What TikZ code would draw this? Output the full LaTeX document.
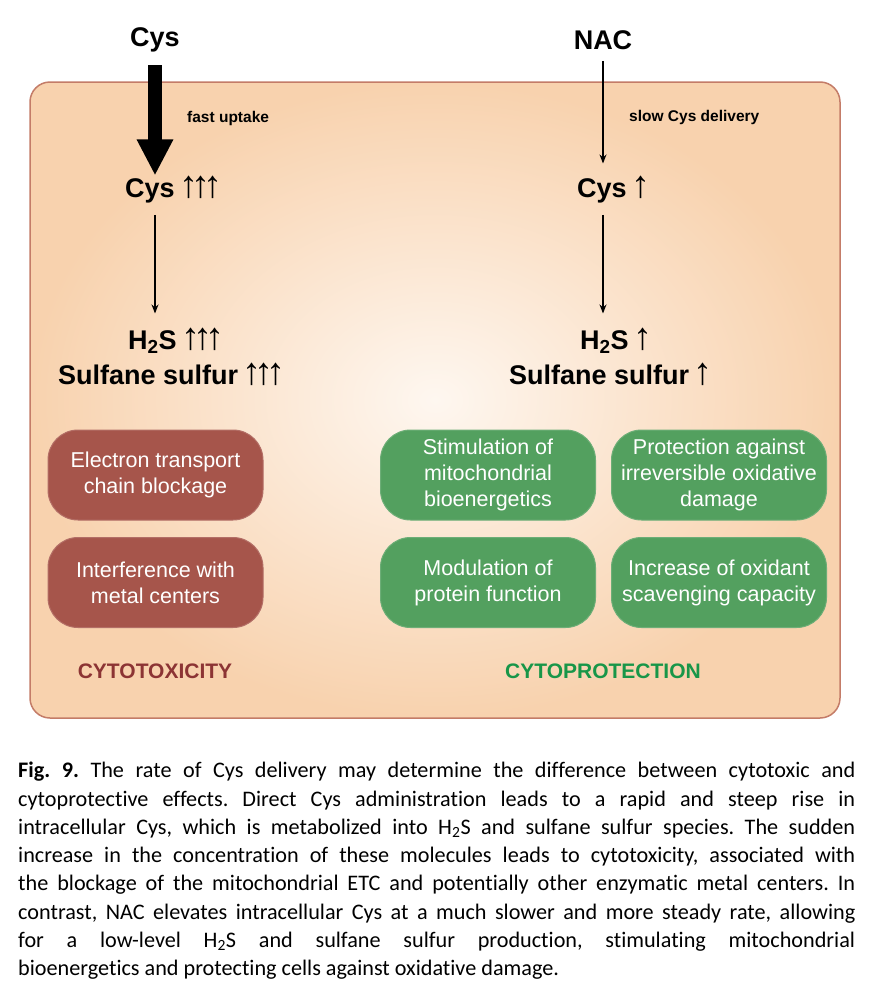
\documentclass[tikz,border=0pt]{standalone}
\usepackage{fontspec}
\setmainfont{Liberation Sans}
\newfontfamily\capfont[Ligatures=NoCommon]{Carlito}
\usetikzlibrary{arrows.meta}

\definecolor{cellfill}{RGB}{248,210,174}
\definecolor{cellin}{RGB}{254,247,240}
\definecolor{cellline}{RGB}{196,124,104}
\definecolor{toxred}{RGB}{166,85,75}
\definecolor{protgreen}{RGB}{83,160,95}
\definecolor{toxtext}{RGB}{140,52,52}
\definecolor{prottext}{RGB}{24,150,72}

\newcommand{\riseone}{{\fontsize{38}{38}\mdseries ↑}}
\newcommand{\risethree}{{\fontsize{38}{38}\mdseries ↑\kern-7pt↑\kern-7pt↑}}

\begin{document}
\begin{tikzpicture}[x=1pt, y=-1pt,
  mol/.style={font=\fontsize{27}{30}\selectfont\bfseries, inner sep=0pt},
  route/.style={font=\fontsize{15.5}{18}\selectfont\bfseries, anchor=west, inner sep=0pt},
  effect/.style={rounded corners=30pt, minimum width=215pt, minimum height=90pt,
    align=center, text=white, font=\fontsize{21.5}{26}\selectfont,
    draw=#1!85!white, fill=#1, line width=1pt},
  outcome/.style={font=\fontsize{21}{24}\selectfont\bfseries},
  flow/.style={-{Stealth[length=9pt,width=7pt]}, line width=1.2pt},
  fast/.style={-{Triangle[length=36pt,width=34pt]}, line width=14pt},
  ]
  \useasboundingbox (0,0) rectangle (890,996);
  \fill[white] (0,0) rectangle (890,996);

  % cell
  \shade[inner color=cellin, outer color=cellfill, rounded corners=20pt]
    (30,82) rectangle (840,718);
  \draw[cellline, line width=1.5pt, rounded corners=20pt]
    (30,82) rectangle (840,718);

  % molecules
  \node[mol] (cys) at (155,40) {Cys};
  \node[mol] (nac) at (603,40) {NAC};
  \node[mol, anchor=base west] (cysL) at (125,197) {Cys\,\risethree};
  \node[mol, anchor=base west] (cysR) at (577,197) {Cys\,\riseone};
  \node[mol, anchor=base west] (h2sL) at (128,349) {H\textsubscript{2}S\,\risethree};
  \node[mol, anchor=base west] (h2sR) at (580,349) {H\textsubscript{2}S\,\riseone};
  \node[mol, anchor=base west] (sulfL) at (58,384) {Sulfane sulfur\,\risethree};
  \node[mol, anchor=base west] (sulfR) at (509,384) {Sulfane sulfur\,\riseone};

  \node[route] (fastlbl) at (187,118) {fast uptake};
  \node[route] (slowlbl) at (629,117) {slow Cys delivery};

  % arrows
  \draw[fast, shorten <=13pt] (cys.south) -- (cys.south |- cysL.north);
  \draw[flow, shorten <=11pt, shorten >=12pt] (nac.south) -- (nac.south |- cysR.north);
  \draw[flow, shorten <=12pt, shorten >=14pt] (cysL.south -| cys) -- (h2sL.north -| cys);
  \draw[flow, shorten <=12pt, shorten >=14pt] (cysR.south -| nac) -- (h2sR.north -| nac);

  % effects
  \node[effect=toxred] (etc) at (155.5,475) {Electron transport\\chain blockage};
  \node[effect=toxred] (metal) at (155.5,582.5) {Interference with\\metal centers};
  \node[effect=protgreen] (bioen) at (488,475) {Stimulation of\\mitochondrial\\bioenergetics};
  \node[effect=protgreen] (protect) at (719,475) {Protection against\\irreversible oxidative\\damage};
  \node[effect=protgreen] (modul) at (488,582.5) {Modulation of\\protein function};
  \node[effect=protgreen] (scav) at (719,582.5) {Increase of oxidant\\scavenging capacity};

  \node[outcome, text=toxtext] (toxic) at (155,671) {CYTOTOXICITY};
  \node[outcome, text=prottext] (protec) at (603,671) {CYTOPROTECTION};

  % caption
  \node[anchor=north west, inner sep=0pt, text width=837pt, align=justify,
    font=\capfont\fontsize{22.2}{28.3}\selectfont] (caption) at (18,762)
  {\hyphenpenalty=10000 \frenchspacing
   \textbf{Fig.~9.} The rate of Cys delivery may determine the difference between cytotoxic and\linebreak
   cytoprotective effects. Direct Cys administration leads to a rapid and steep rise in\linebreak
   intracellular Cys, which is metabolized into H\textsubscript{2}S and sulfane sulfur species. The sudden\linebreak
   increase in the concentration of these molecules leads to cytotoxicity, associated with\linebreak
   the blockage of the mitochondrial ETC and potentially other enzymatic metal centers. In\linebreak
   contrast, NAC elevates intracellular Cys at a much slower and more steady rate, allowing\linebreak
   for a low-level H\textsubscript{2}S and sulfane sulfur production, stimulating mitochondrial\linebreak
   bioenergetics and protecting cells against oxidative damage.};
\end{tikzpicture}
\end{document}
